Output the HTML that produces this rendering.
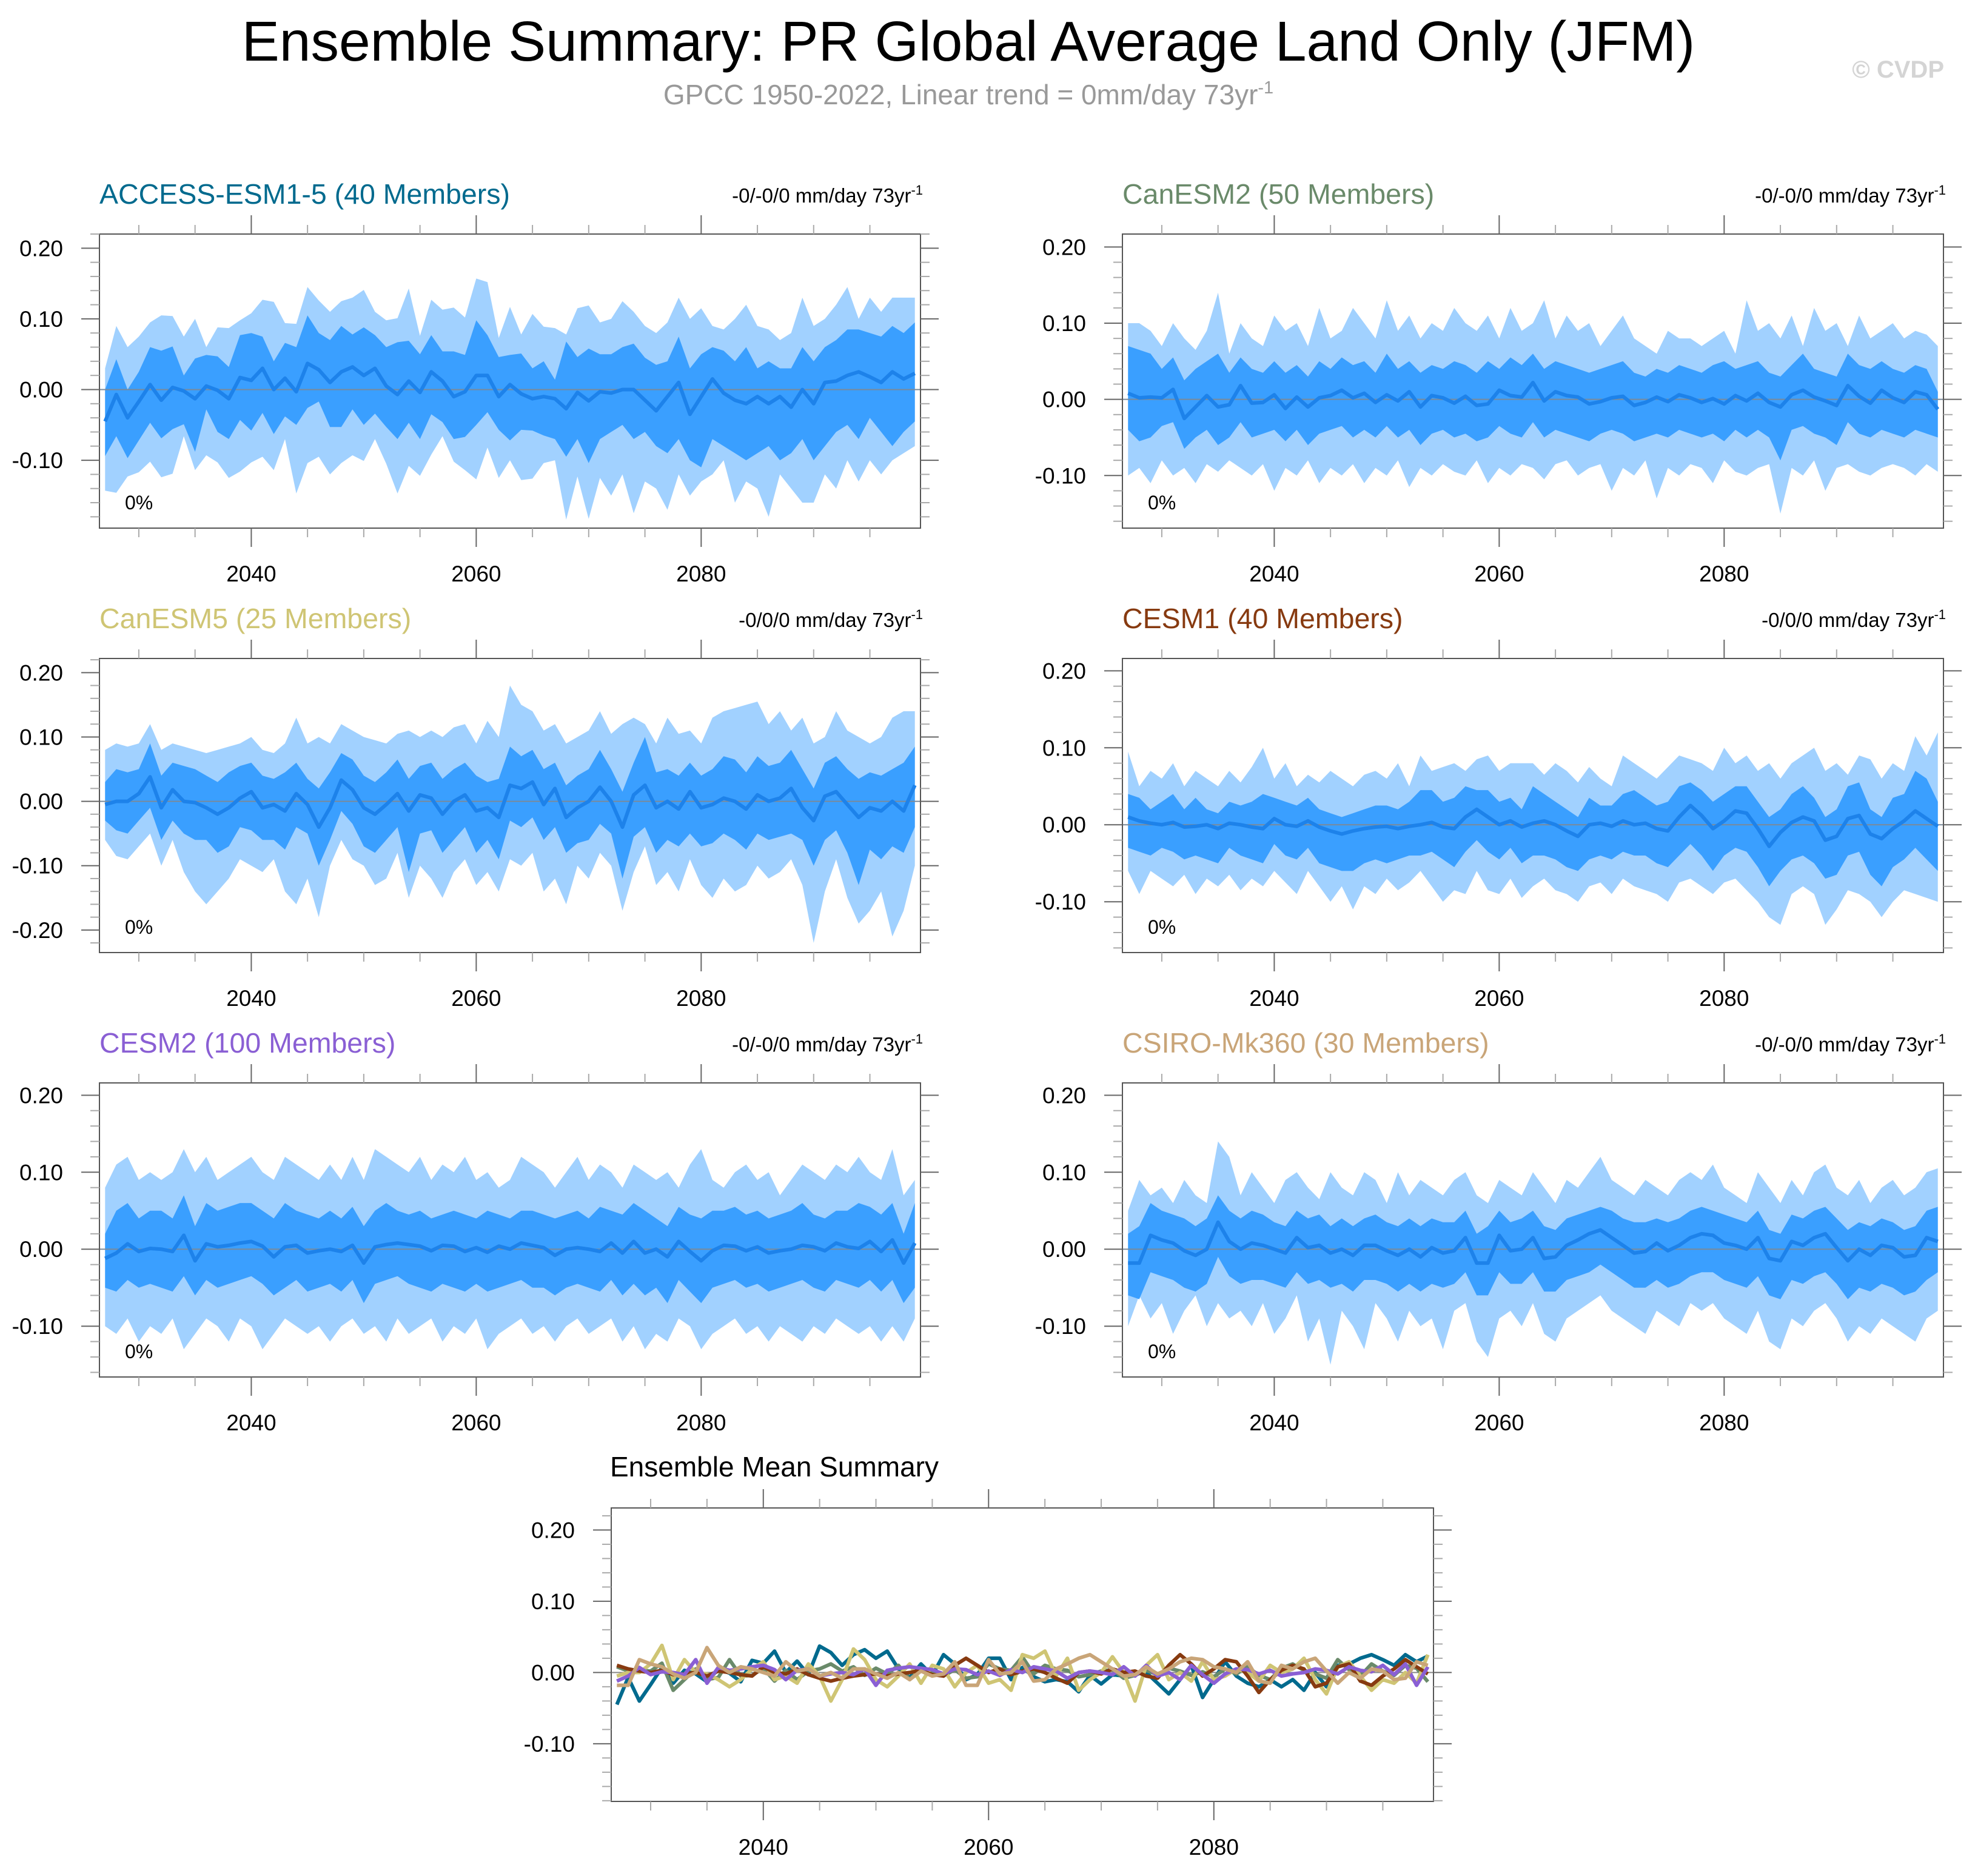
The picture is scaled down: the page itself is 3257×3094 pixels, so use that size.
<!DOCTYPE html>
<html><head><meta charset="utf-8"><style>
body{margin:0;background:#fff}
svg{display:block;font-family:"Liberation Sans",sans-serif}
</style></head><body>
<svg id="chart" xmlns="http://www.w3.org/2000/svg" width="3257" height="3094" viewBox="0 0 3257 3094">
<text x="1597" y="100" font-size="93" text-anchor="middle" fill="#000">Ensemble Summary: PR Global Average Land Only (JFM)</text>
<text x="1597" y="172" font-size="46" text-anchor="middle" fill="#999">GPCC 1950-2022, Linear trend = 0mm/day 73yr<tspan dy="-18" font-size="29">-1</tspan></text>
<text x="3206" y="128" font-size="40" font-weight="bold" text-anchor="end" fill="#d4d4d4">© CVDP</text>
</svg>
<script>
const years = [];
for (let y = 2027; y <= 2099; y++) years.push(y);
const xTickYears = [2040, 2060, 2080];

const accessMean = [-0.045,-0.007,-0.04,-0.017,0.007,-0.015,0.003,-0.002,-0.013,0.005,-0.001,-0.013,0.017,0.013,0.03,0,0.016,-0.003,0.037,0.028,0.01,0.025,0.032,0.02,0.03,0.005,-0.007,0.012,-0.004,0.025,0.012,-0.01,-0.003,0.02,0.02,-0.01,0.007,-0.006,-0.013,-0.01,-0.013,-0.027,-0.004,-0.016,-0.003,-0.005,0,0,-0.015,-0.03,-0.01,0.01,-0.035,-0.01,0.015,-0.005,-0.015,-0.02,-0.01,-0.02,-0.01,-0.025,0,-0.02,0.01,0.012,0.02,0.025,0.018,0.01,0.025,0.015,0.023];
const accessHi = [0.03,0.09,0.06,0.075,0.095,0.105,0.104,0.075,0.1,0.06,0.088,0.087,0.098,0.108,0.127,0.124,0.094,0.093,0.145,0.126,0.11,0.125,0.13,0.141,0.11,0.098,0.101,0.143,0.076,0.127,0.113,0.116,0.102,0.157,0.152,0.073,0.117,0.078,0.107,0.089,0.087,0.078,0.115,0.119,0.095,0.1,0.125,0.11,0.09,0.08,0.095,0.13,0.1,0.115,0.09,0.085,0.1,0.12,0.09,0.085,0.07,0.08,0.13,0.09,0.1,0.12,0.145,0.1,0.13,0.11,0.13,0.13,0.13];
const accessUhi = [0,0.043,0,0.025,0.06,0.055,0.061,0.02,0.044,0.049,0.047,0.032,0.077,0.08,0.075,0.04,0.066,0.06,0.105,0.08,0.07,0.09,0.078,0.088,0.077,0.06,0.067,0.069,0.05,0.077,0.054,0.054,0.049,0.098,0.077,0.046,0.049,0.051,0.03,0.04,0.014,0.068,0.046,0.058,0.05,0.05,0.06,0.065,0.045,0.035,0.04,0.075,0.03,0.05,0.06,0.055,0.04,0.06,0.03,0.04,0.03,0.03,0.06,0.04,0.06,0.07,0.085,0.085,0.08,0.075,0.09,0.08,0.095];
const accessUlo = [-0.094,-0.066,-0.097,-0.072,-0.047,-0.069,-0.056,-0.049,-0.088,-0.028,-0.06,-0.07,-0.043,-0.058,-0.033,-0.063,-0.038,-0.05,-0.026,-0.017,-0.053,-0.053,-0.028,-0.05,-0.034,-0.053,-0.07,-0.047,-0.07,-0.035,-0.046,-0.07,-0.067,-0.05,-0.032,-0.057,-0.072,-0.057,-0.058,-0.065,-0.07,-0.095,-0.07,-0.104,-0.07,-0.06,-0.05,-0.07,-0.06,-0.08,-0.09,-0.07,-0.1,-0.11,-0.07,-0.08,-0.09,-0.1,-0.09,-0.08,-0.1,-0.09,-0.07,-0.1,-0.08,-0.06,-0.05,-0.07,-0.04,-0.06,-0.08,-0.06,-0.045];
const accessLo = [-0.143,-0.146,-0.123,-0.117,-0.102,-0.124,-0.119,-0.066,-0.114,-0.093,-0.103,-0.125,-0.116,-0.103,-0.095,-0.114,-0.07,-0.147,-0.104,-0.095,-0.12,-0.104,-0.093,-0.101,-0.07,-0.105,-0.147,-0.108,-0.122,-0.092,-0.066,-0.102,-0.114,-0.127,-0.082,-0.125,-0.1,-0.128,-0.126,-0.104,-0.1,-0.184,-0.123,-0.183,-0.125,-0.15,-0.12,-0.175,-0.13,-0.14,-0.17,-0.12,-0.15,-0.13,-0.12,-0.1,-0.16,-0.13,-0.14,-0.18,-0.12,-0.14,-0.16,-0.16,-0.12,-0.14,-0.1,-0.13,-0.1,-0.12,-0.1,-0.09,-0.08];

const canesm2Mean = [0.008,0.002,0.003,0.002,0.013,-0.025,-0.010,0.005,-0.010,-0.007,0.018,-0.005,-0.004,0.006,-0.012,0.003,-0.010,0.002,0.005,0.012,0.002,0.008,-0.004,0.006,-0.002,0.010,-0.010,0.005,0.002,-0.005,0.004,-0.008,-0.006,0.012,0.005,0.003,0.022,-0.002,0.010,0.005,0.003,-0.006,-0.003,0.002,0.004,-0.008,-0.004,0.003,-0.003,0.006,0.002,-0.004,0.001,-0.006,0.005,-0.002,0.008,-0.004,-0.010,0.006,0.012,0.003,-0.002,-0.008,0.018,0.004,-0.005,0.012,0.002,-0.004,0.010,0.006,-0.013];
const canesm2Hi = [0.10,0.10,0.09,0.07,0.10,0.08,0.065,0.09,0.14,0.06,0.10,0.08,0.07,0.11,0.09,0.10,0.07,0.12,0.08,0.09,0.12,0.10,0.08,0.13,0.09,0.11,0.08,0.10,0.09,0.12,0.10,0.09,0.11,0.08,0.12,0.09,0.10,0.13,0.08,0.11,0.09,0.10,0.07,0.09,0.11,0.08,0.07,0.06,0.09,0.08,0.08,0.07,0.08,0.09,0.06,0.13,0.09,0.10,0.08,0.11,0.07,0.12,0.09,0.10,0.07,0.11,0.08,0.09,0.10,0.08,0.09,0.085,0.07];
const canesm2Uhi = [0.07,0.065,0.06,0.04,0.055,0.025,0.04,0.05,0.06,0.035,0.055,0.04,0.035,0.05,0.035,0.045,0.03,0.05,0.04,0.055,0.045,0.05,0.035,0.06,0.04,0.05,0.035,0.045,0.04,0.05,0.045,0.035,0.05,0.04,0.055,0.045,0.06,0.04,0.05,0.045,0.04,0.035,0.04,0.045,0.05,0.035,0.03,0.04,0.035,0.045,0.04,0.035,0.045,0.05,0.04,0.045,0.05,0.035,0.03,0.045,0.06,0.04,0.035,0.03,0.06,0.045,0.04,0.05,0.04,0.035,0.045,0.04,0.01];
const canesm2Ulo = [-0.04,-0.055,-0.05,-0.035,-0.03,-0.065,-0.05,-0.04,-0.06,-0.05,-0.03,-0.05,-0.045,-0.04,-0.055,-0.04,-0.06,-0.045,-0.04,-0.035,-0.05,-0.04,-0.05,-0.035,-0.05,-0.04,-0.06,-0.045,-0.04,-0.05,-0.045,-0.055,-0.05,-0.035,-0.045,-0.05,-0.03,-0.05,-0.04,-0.045,-0.05,-0.055,-0.045,-0.04,-0.045,-0.055,-0.05,-0.045,-0.05,-0.04,-0.045,-0.05,-0.045,-0.055,-0.04,-0.05,-0.04,-0.05,-0.08,-0.04,-0.035,-0.045,-0.05,-0.06,-0.03,-0.045,-0.05,-0.04,-0.045,-0.05,-0.04,-0.045,-0.05];
const canesm2Lo = [-0.10,-0.09,-0.11,-0.08,-0.10,-0.09,-0.11,-0.085,-0.095,-0.08,-0.09,-0.10,-0.085,-0.12,-0.09,-0.10,-0.08,-0.11,-0.09,-0.10,-0.085,-0.11,-0.09,-0.10,-0.08,-0.115,-0.09,-0.10,-0.085,-0.095,-0.10,-0.08,-0.11,-0.09,-0.10,-0.085,-0.09,-0.105,-0.085,-0.08,-0.10,-0.09,-0.085,-0.12,-0.09,-0.10,-0.08,-0.13,-0.09,-0.10,-0.085,-0.09,-0.11,-0.08,-0.095,-0.10,-0.09,-0.085,-0.15,-0.09,-0.10,-0.08,-0.12,-0.09,-0.085,-0.095,-0.10,-0.09,-0.085,-0.09,-0.10,-0.085,-0.095];

const canesm5Mean = [-0.005,0.000,0.000,0.012,0.038,-0.010,0.018,0.000,-0.002,-0.010,-0.020,-0.010,0.005,0.015,-0.010,-0.005,-0.015,0.012,-0.005,-0.040,-0.010,0.033,0.018,-0.010,-0.020,-0.005,0.012,-0.015,0.010,0.005,-0.020,0.000,0.010,-0.015,-0.010,-0.025,0.025,0.020,0.030,-0.005,0.020,-0.025,-0.010,0.000,0.022,0.000,-0.040,0.010,0.025,-0.010,0.000,-0.012,0.015,-0.010,-0.005,0.005,0.000,-0.012,0.010,0.000,0.005,0.020,-0.010,-0.030,0.008,0.015,-0.005,-0.025,-0.010,-0.015,0.000,-0.015,0.025];
const canesm5Hi = [0.08,0.09,0.085,0.09,0.12,0.08,0.09,0.085,0.08,0.075,0.08,0.085,0.09,0.10,0.08,0.075,0.09,0.13,0.09,0.10,0.09,0.12,0.11,0.10,0.095,0.09,0.105,0.11,0.10,0.11,0.10,0.115,0.12,0.09,0.125,0.10,0.18,0.15,0.14,0.11,0.12,0.09,0.10,0.11,0.14,0.105,0.12,0.13,0.12,0.09,0.13,0.105,0.11,0.09,0.13,0.14,0.145,0.15,0.155,0.12,0.14,0.11,0.13,0.09,0.10,0.14,0.11,0.10,0.09,0.10,0.13,0.14,0.14];
const canesm5Uhi = [0.03,0.05,0.045,0.05,0.09,0.04,0.06,0.055,0.05,0.04,0.03,0.045,0.055,0.06,0.04,0.035,0.045,0.06,0.035,0.02,0.045,0.075,0.065,0.04,0.03,0.045,0.065,0.035,0.055,0.06,0.035,0.05,0.06,0.04,0.03,0.035,0.085,0.07,0.08,0.05,0.06,0.025,0.04,0.05,0.08,0.05,0.015,0.06,0.10,0.045,0.05,0.04,0.06,0.04,0.05,0.07,0.065,0.045,0.07,0.055,0.06,0.08,0.05,0.02,0.06,0.07,0.05,0.035,0.045,0.04,0.05,0.06,0.085];
const canesm5Ulo = [-0.03,-0.045,-0.05,-0.03,-0.01,-0.06,-0.03,-0.05,-0.06,-0.06,-0.08,-0.07,-0.04,-0.045,-0.06,-0.06,-0.075,-0.04,-0.05,-0.10,-0.06,-0.015,-0.035,-0.07,-0.08,-0.06,-0.04,-0.11,-0.05,-0.045,-0.08,-0.06,-0.04,-0.08,-0.06,-0.09,-0.03,-0.04,-0.025,-0.06,-0.04,-0.08,-0.065,-0.06,-0.035,-0.05,-0.12,-0.055,-0.04,-0.08,-0.06,-0.07,-0.05,-0.07,-0.065,-0.05,-0.06,-0.075,-0.05,-0.06,-0.055,-0.05,-0.06,-0.10,-0.06,-0.045,-0.08,-0.13,-0.075,-0.09,-0.07,-0.08,-0.04];
const canesm5Lo = [-0.06,-0.085,-0.09,-0.07,-0.05,-0.10,-0.06,-0.11,-0.14,-0.16,-0.14,-0.12,-0.09,-0.10,-0.11,-0.09,-0.14,-0.16,-0.12,-0.18,-0.10,-0.06,-0.09,-0.10,-0.13,-0.12,-0.08,-0.15,-0.10,-0.12,-0.15,-0.11,-0.09,-0.13,-0.11,-0.14,-0.09,-0.10,-0.08,-0.14,-0.12,-0.16,-0.10,-0.12,-0.08,-0.10,-0.17,-0.11,-0.07,-0.13,-0.11,-0.14,-0.09,-0.13,-0.15,-0.12,-0.14,-0.13,-0.10,-0.12,-0.11,-0.09,-0.13,-0.22,-0.14,-0.09,-0.15,-0.19,-0.17,-0.14,-0.21,-0.17,-0.10];

const cesm1Mean = [0.010,0.005,0.002,0.000,0.003,-0.003,-0.002,0.000,-0.005,0.002,0.000,-0.003,-0.005,0.008,0.000,-0.002,0.005,-0.003,-0.008,-0.012,-0.008,-0.005,-0.003,-0.002,-0.005,-0.002,0.000,0.003,-0.003,-0.005,0.010,0.020,0.010,0.000,0.005,-0.003,0.002,0.005,0.000,-0.008,-0.015,0.000,0.002,-0.002,0.005,0.000,0.002,-0.005,-0.008,0.010,0.025,0.012,-0.005,0.005,0.018,0.015,-0.005,-0.028,-0.010,0.003,0.010,0.005,-0.020,-0.015,0.008,0.012,-0.012,-0.018,-0.005,0.005,0.018,0.008,-0.002];
const cesm1Hi = [0.095,0.05,0.07,0.06,0.08,0.05,0.07,0.06,0.05,0.07,0.055,0.075,0.10,0.06,0.08,0.05,0.065,0.055,0.07,0.06,0.05,0.065,0.07,0.06,0.08,0.05,0.09,0.07,0.075,0.08,0.07,0.085,0.09,0.07,0.08,0.08,0.08,0.065,0.08,0.07,0.055,0.075,0.06,0.05,0.09,0.08,0.07,0.06,0.075,0.09,0.085,0.08,0.07,0.10,0.08,0.09,0.07,0.08,0.06,0.08,0.09,0.10,0.07,0.08,0.065,0.09,0.085,0.06,0.08,0.07,0.115,0.09,0.12];
const cesm1Uhi = [0.04,0.035,0.02,0.03,0.04,0.02,0.035,0.02,0.015,0.03,0.025,0.03,0.04,0.035,0.03,0.025,0.035,0.02,0.015,0.01,0.015,0.02,0.025,0.025,0.02,0.03,0.045,0.045,0.03,0.035,0.05,0.045,0.045,0.03,0.035,0.02,0.05,0.04,0.03,0.02,0.01,0.035,0.025,0.025,0.04,0.045,0.035,0.025,0.03,0.05,0.055,0.045,0.03,0.04,0.05,0.05,0.03,0.01,0.02,0.04,0.05,0.035,0.01,0.02,0.05,0.055,0.02,0.01,0.035,0.04,0.07,0.06,0.03];
const cesm1Ulo = [-0.03,-0.035,-0.04,-0.03,-0.035,-0.045,-0.04,-0.045,-0.05,-0.03,-0.04,-0.045,-0.05,-0.025,-0.04,-0.045,-0.03,-0.05,-0.055,-0.06,-0.06,-0.05,-0.045,-0.05,-0.045,-0.04,-0.04,-0.035,-0.045,-0.055,-0.035,-0.02,-0.035,-0.045,-0.03,-0.05,-0.04,-0.04,-0.045,-0.055,-0.06,-0.045,-0.04,-0.045,-0.035,-0.04,-0.04,-0.05,-0.055,-0.04,-0.025,-0.04,-0.06,-0.04,-0.03,-0.035,-0.055,-0.08,-0.06,-0.045,-0.04,-0.05,-0.07,-0.065,-0.04,-0.035,-0.065,-0.08,-0.055,-0.045,-0.03,-0.045,-0.06];
const cesm1Lo = [-0.06,-0.09,-0.06,-0.07,-0.08,-0.065,-0.09,-0.07,-0.08,-0.065,-0.085,-0.07,-0.08,-0.06,-0.075,-0.09,-0.06,-0.08,-0.10,-0.08,-0.11,-0.08,-0.09,-0.07,-0.085,-0.075,-0.06,-0.08,-0.10,-0.085,-0.09,-0.06,-0.085,-0.09,-0.07,-0.095,-0.08,-0.07,-0.085,-0.09,-0.10,-0.08,-0.075,-0.09,-0.07,-0.08,-0.085,-0.09,-0.10,-0.075,-0.07,-0.08,-0.09,-0.075,-0.07,-0.085,-0.10,-0.12,-0.13,-0.09,-0.08,-0.09,-0.13,-0.11,-0.085,-0.09,-0.10,-0.12,-0.10,-0.085,-0.09,-0.095,-0.10];

const cesm2Mean = [-0.012,-0.005,0.007,-0.003,0.001,0.000,-0.003,0.018,-0.015,0.007,0.003,0.005,0.008,0.010,0.004,-0.010,0.003,0.005,-0.005,-0.002,0.000,-0.003,0.005,-0.018,0.003,0.006,0.008,0.006,0.004,-0.002,0.005,0.004,-0.003,0.002,-0.004,0.004,0.000,0.008,0.005,0.002,-0.008,0.000,0.002,0.000,-0.003,0.008,-0.005,0.010,-0.005,0.000,-0.010,0.010,-0.003,-0.015,-0.002,0.005,0.004,-0.002,0.003,-0.005,-0.002,0.000,0.005,0.003,-0.002,0.008,0.003,0.001,0.010,-0.003,0.012,-0.018,0.008];
const cesm2Hi = [0.08,0.11,0.12,0.09,0.10,0.09,0.10,0.13,0.10,0.12,0.09,0.10,0.11,0.12,0.10,0.09,0.12,0.11,0.10,0.09,0.11,0.09,0.12,0.09,0.13,0.12,0.11,0.10,0.12,0.09,0.11,0.10,0.12,0.09,0.10,0.08,0.09,0.12,0.11,0.10,0.08,0.10,0.12,0.09,0.11,0.10,0.08,0.11,0.10,0.09,0.10,0.08,0.11,0.13,0.09,0.08,0.10,0.11,0.09,0.10,0.07,0.09,0.11,0.10,0.09,0.11,0.10,0.12,0.10,0.09,0.13,0.07,0.09];
const cesm2Uhi = [0.02,0.05,0.06,0.04,0.05,0.05,0.04,0.07,0.03,0.06,0.05,0.055,0.06,0.06,0.05,0.04,0.06,0.05,0.045,0.04,0.05,0.04,0.055,0.03,0.05,0.06,0.05,0.045,0.05,0.04,0.045,0.05,0.045,0.04,0.05,0.045,0.04,0.05,0.05,0.045,0.04,0.045,0.05,0.04,0.055,0.05,0.045,0.06,0.05,0.04,0.03,0.055,0.045,0.04,0.05,0.05,0.055,0.045,0.05,0.04,0.045,0.05,0.06,0.045,0.04,0.05,0.05,0.06,0.055,0.045,0.06,0.02,0.06];
const cesm2Ulo = [-0.05,-0.055,-0.04,-0.05,-0.045,-0.05,-0.055,-0.035,-0.06,-0.04,-0.05,-0.045,-0.04,-0.035,-0.045,-0.06,-0.05,-0.04,-0.055,-0.05,-0.045,-0.055,-0.04,-0.07,-0.045,-0.04,-0.035,-0.045,-0.05,-0.055,-0.045,-0.05,-0.055,-0.045,-0.055,-0.05,-0.045,-0.04,-0.05,-0.05,-0.06,-0.05,-0.045,-0.05,-0.055,-0.04,-0.06,-0.045,-0.06,-0.05,-0.07,-0.04,-0.055,-0.07,-0.05,-0.045,-0.04,-0.05,-0.045,-0.055,-0.05,-0.045,-0.04,-0.05,-0.055,-0.04,-0.045,-0.05,-0.04,-0.055,-0.04,-0.07,-0.05];
const cesm2Lo = [-0.10,-0.11,-0.09,-0.12,-0.10,-0.11,-0.09,-0.13,-0.11,-0.09,-0.10,-0.12,-0.09,-0.10,-0.13,-0.11,-0.09,-0.10,-0.11,-0.10,-0.12,-0.10,-0.09,-0.11,-0.10,-0.12,-0.09,-0.11,-0.10,-0.09,-0.12,-0.10,-0.11,-0.09,-0.13,-0.11,-0.10,-0.09,-0.11,-0.10,-0.12,-0.10,-0.09,-0.11,-0.10,-0.09,-0.12,-0.10,-0.13,-0.11,-0.12,-0.09,-0.10,-0.13,-0.11,-0.10,-0.09,-0.11,-0.10,-0.12,-0.10,-0.11,-0.12,-0.10,-0.11,-0.09,-0.10,-0.11,-0.10,-0.12,-0.10,-0.12,-0.09];

const csiroMean = [-0.018,-0.018,0.018,0.012,0.008,-0.002,-0.008,0.000,0.035,0.010,0.000,0.008,0.005,0.000,-0.005,0.015,0.002,0.005,-0.005,0.000,-0.008,0.005,0.005,-0.002,-0.008,0.000,-0.010,0.002,-0.005,-0.002,0.015,-0.018,-0.018,0.018,-0.002,0.000,0.015,-0.012,-0.010,0.005,0.012,0.020,0.025,0.015,0.005,-0.005,-0.003,0.008,-0.002,0.005,0.015,0.020,0.018,0.008,0.005,0.000,0.015,-0.012,-0.015,0.010,0.005,0.015,0.020,0.002,-0.015,0.000,-0.008,0.005,0.002,-0.010,-0.008,0.015,0.010];
const csiroHi = [0.05,0.09,0.07,0.08,0.06,0.09,0.07,0.06,0.14,0.12,0.07,0.10,0.08,0.06,0.09,0.10,0.08,0.065,0.10,0.08,0.07,0.10,0.09,0.06,0.10,0.07,0.09,0.08,0.07,0.09,0.10,0.07,0.06,0.09,0.08,0.07,0.10,0.08,0.06,0.09,0.08,0.10,0.12,0.09,0.08,0.07,0.09,0.08,0.07,0.09,0.10,0.09,0.11,0.08,0.07,0.06,0.10,0.08,0.06,0.09,0.07,0.10,0.11,0.08,0.07,0.09,0.06,0.08,0.09,0.07,0.08,0.10,0.105];
const csiroUhi = [0.02,0.03,0.06,0.05,0.045,0.04,0.03,0.04,0.07,0.05,0.04,0.05,0.045,0.035,0.03,0.05,0.04,0.045,0.03,0.04,0.03,0.04,0.045,0.035,0.03,0.04,0.03,0.04,0.035,0.035,0.05,0.02,0.03,0.05,0.035,0.04,0.05,0.03,0.025,0.04,0.045,0.05,0.055,0.05,0.04,0.035,0.035,0.04,0.035,0.04,0.05,0.055,0.05,0.045,0.04,0.035,0.05,0.025,0.02,0.045,0.04,0.05,0.055,0.04,0.025,0.035,0.03,0.04,0.035,0.025,0.03,0.05,0.055];
const csiroUlo = [-0.06,-0.065,-0.03,-0.035,-0.04,-0.05,-0.055,-0.045,-0.01,-0.035,-0.045,-0.04,-0.04,-0.045,-0.05,-0.03,-0.045,-0.04,-0.05,-0.045,-0.055,-0.04,-0.04,-0.045,-0.055,-0.045,-0.055,-0.045,-0.05,-0.045,-0.03,-0.06,-0.06,-0.03,-0.045,-0.045,-0.03,-0.055,-0.055,-0.04,-0.035,-0.03,-0.02,-0.03,-0.04,-0.05,-0.05,-0.04,-0.05,-0.045,-0.035,-0.03,-0.03,-0.04,-0.045,-0.05,-0.035,-0.06,-0.065,-0.04,-0.045,-0.035,-0.03,-0.045,-0.065,-0.05,-0.055,-0.045,-0.05,-0.06,-0.055,-0.04,-0.03];
const csiroLo = [-0.10,-0.06,-0.09,-0.07,-0.11,-0.08,-0.06,-0.10,-0.07,-0.09,-0.08,-0.10,-0.07,-0.11,-0.09,-0.06,-0.12,-0.09,-0.15,-0.08,-0.10,-0.13,-0.07,-0.09,-0.12,-0.08,-0.10,-0.09,-0.13,-0.08,-0.07,-0.12,-0.14,-0.09,-0.08,-0.10,-0.07,-0.11,-0.12,-0.09,-0.08,-0.07,-0.06,-0.08,-0.09,-0.10,-0.11,-0.08,-0.09,-0.10,-0.07,-0.08,-0.07,-0.09,-0.10,-0.11,-0.08,-0.12,-0.13,-0.09,-0.10,-0.08,-0.07,-0.09,-0.12,-0.10,-0.11,-0.09,-0.10,-0.11,-0.12,-0.09,-0.08];

const modelNames = ["ACCESS-ESM1-5 (40 Members)","CanESM2 (50 Members)","CanESM5 (25 Members)","CESM1 (40 Members)","CESM2 (100 Members)","CSIRO-Mk360 (30 Members)"];
const trendLabels = ["-0/-0/0","-0/-0/0","-0/0/0","-0/0/0","-0/-0/0","-0/-0/0"];
const modelColors = ["#006a8e","#6a8a6a","#cfc574","#873a10","#8a5fd4","#c9a578"];

const NS = "http://www.w3.org/2000/svg";
const svg = document.getElementById('chart');
function mk(tag, attrs, parent) {
  const e = document.createElementNS(NS, tag);
  for (const k in attrs) e.setAttribute(k, attrs[k]);
  (parent || svg).appendChild(e);
  return e;
}

const panels = [
  {x0:164,y0:386,ymax:0.22,ymin:-0.196,d:[accessMean,accessHi,accessUhi,accessUlo,accessLo]},
  {x0:1851,y0:386,ymax:0.217,ymin:-0.169,d:[canesm2Mean,canesm2Hi,canesm2Uhi,canesm2Ulo,canesm2Lo]},
  {x0:164,y0:1086,ymax:0.222,ymin:-0.235,d:[canesm5Mean,canesm5Hi,canesm5Uhi,canesm5Ulo,canesm5Lo]},
  {x0:1851,y0:1086,ymax:0.216,ymin:-0.166,d:[cesm1Mean,cesm1Hi,cesm1Uhi,cesm1Ulo,cesm1Lo]},
  {x0:164,y0:1786,ymax:0.216,ymin:-0.166,d:[cesm2Mean,cesm2Hi,cesm2Uhi,cesm2Ulo,cesm2Lo]},
  {x0:1851,y0:1786,ymax:0.216,ymin:-0.166,d:[csiroMean,csiroHi,csiroUhi,csiroUlo,csiroLo]}
];
const W = 1354, H = 485;

function axes(g, x0, y0, w, h, ymin, ymax) {
  const xs = yr => x0 + (yr - 2026.5) / 73 * w;
  const ys = v => y0 + (ymax - v) / (ymax - ymin) * h;
  return {xs, ys};
}

function drawFrame(g, x0, y0, w, h, ymin, ymax, sc) {
  for (let i = -12; i <= 12; i++) {
    const v = i * 0.02;
    if (v < ymin - 1e-9 || v > ymax + 1e-9) continue;
    const major = (i % 5 === 0);
    const L = major ? 30 : 15;
    const y = sc.ys(v);
    const t = mk('line', {x1:x0-L,y1:y,x2:x0,y2:y,stroke:major?'#666':'#aaa','stroke-width':2}, g);
    
    
    const t2 = mk('line', {x1:x0+w,y1:y,x2:x0+w+L,y2:y,stroke:major?'#666':'#aaa','stroke-width':2}, g);
    
    
    if (major) {
      const lb = mk('text', {x:x0-60,y:y+13,'font-size':37,'text-anchor':'end',fill:'#000'}, g);
      lb.textContent = v.toFixed(2);
      
      
    }
  }
  for (let yr = 2030; yr <= 2095; yr += 5) {
    const major = xTickYears.indexOf(yr) >= 0;
    const L = major ? 31 : 15;
    const x = sc.xs(yr);
    const a = mk('line', {x1:x,y1:y0-L,x2:x,y2:y0,stroke:major?'#666':'#aaa','stroke-width':2}, g);
    
    
    const b = mk('line', {x1:x,y1:y0+h,x2:x,y2:y0+h+L,stroke:major?'#666':'#aaa','stroke-width':2}, g);
    
    
  }
  xTickYears.forEach(yr => {
    const lb = mk('text', {x:sc.xs(yr),y:y0+h+88,'font-size':37,'text-anchor':'middle',fill:'#000'}, g);
    lb.textContent = String(yr);
    
    
  });
}

function bandPath(sc, up, dn) {
  let p = '';
  years.forEach((yr, i) => { p += (i ? 'L' : 'M') + sc.xs(yr).toFixed(1) + ',' + sc.ys(up[i]).toFixed(1); });
  for (let i = years.length - 1; i >= 0; i--) p += 'L' + sc.xs(years[i]).toFixed(1) + ',' + sc.ys(dn[i]).toFixed(1);
  return p + 'Z';
}
function linePath(sc, arr) {
  let p = '';
  years.forEach((yr, i) => { p += (i ? 'L' : 'M') + sc.xs(yr).toFixed(1) + ',' + sc.ys(arr[i]).toFixed(1); });
  return p;
}

panels.forEach((P, k) => {
  const g = mk('g', {});
  
  
  const sc = axes(g, P.x0, P.y0, W, H, P.ymin, P.ymax);
  const clip = mk('clipPath', {id:'clip'+k}, g);
  mk('rect', {x:P.x0,y:P.y0,width:W,height:H}, clip);
  const inner = mk('g', {'clip-path':'url(#clip'+k+')'}, g);
  const light = mk('path', {d:bandPath(sc, P.d[1], P.d[4]), fill:'#a1d1ff'}, inner);
  
  
  const dark = mk('path', {d:bandPath(sc, P.d[2], P.d[3]), fill:'#3a9fff'}, inner);
  
  
  const zl = mk('line', {x1:P.x0,y1:sc.ys(0),x2:P.x0+W,y2:sc.ys(0),stroke:'#7a8a9a','stroke-width':2}, inner);
  
  
  const ml = mk('path', {d:linePath(sc, P.d[0]), fill:'none', stroke:'#1d82ea','stroke-width':6,'stroke-linejoin':'round'}, inner);
  
  
  const box = mk('rect', {x:P.x0,y:P.y0,width:W,height:H,fill:'none',stroke:'#555','stroke-width':2}, g);
  
  
  drawFrame(g, P.x0, P.y0, W, H, P.ymin, P.ymax, sc);
  const tt = mk('text', {x:P.x0,y:P.y0-50,'font-size':46.5,fill:modelColors[k]}, g);
  tt.textContent = modelNames[k];
  
  
  const tr = mk('text', {x:P.x0+W+4,y:P.y0-52,'font-size':33,'text-anchor':'end',fill:'#000'}, g);
  tr.textContent = trendLabels[k] + ' mm/day 73yr';
  const sup = mk('tspan', {dy:-13,'font-size':22}, tr);
  sup.textContent = '-1';
  
  
  const pc = mk('text', {x:P.x0+42,y:P.y0+H-31,'font-size':32,fill:'#000'}, g);
  pc.textContent = '0%';
  
  
});

(function(){
  const x0 = 1008, y0 = 2487, w = 1356, h = 484, ymin = -0.181, ymax = 0.231;
  const g = mk('g', {});
  
  
  const sc = axes(g, x0, y0, w, h, ymin, ymax);
  const zl = mk('line', {x1:x0,y1:sc.ys(0),x2:x0+w,y2:sc.ys(0),stroke:'#888','stroke-width':2}, g);
  
  
  panels.forEach((P, k) => {
    const l = mk('path', {d:linePath(sc, P.d[0]), fill:'none', stroke:modelColors[k],'stroke-width':6,'stroke-linejoin':'round'}, g);
    
    
  });
  const box = mk('rect', {x:x0,y:y0,width:w,height:h,fill:'none',stroke:'#555','stroke-width':2}, g);
  
  
  drawFrame(g, x0, y0, w, h, ymin, ymax, sc);
  const tt = mk('text', {x:x0-2,y:y0-52,'font-size':46,fill:'#000'}, g);
  tt.textContent = 'Ensemble Mean Summary';
  
  
})();
</script>
</body></html>
